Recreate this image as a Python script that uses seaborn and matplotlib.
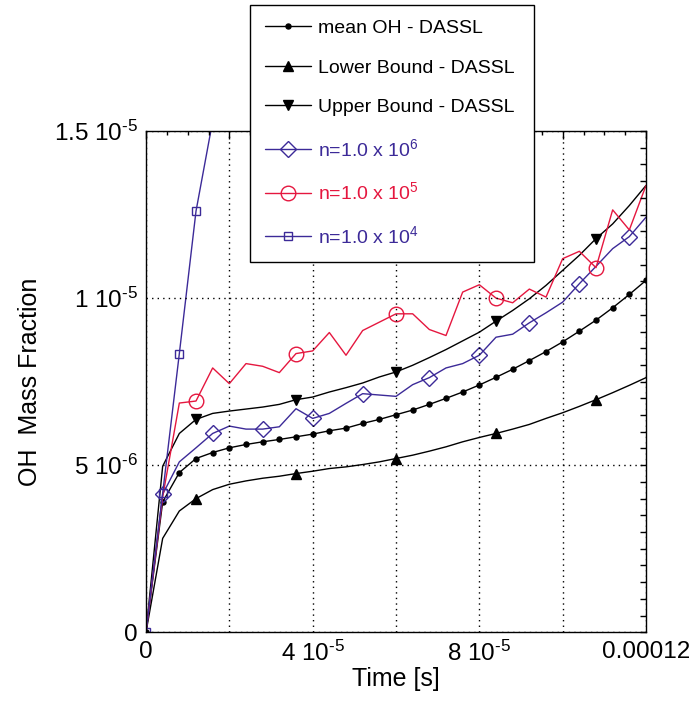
import matplotlib
matplotlib.use("Agg")
import matplotlib.pyplot as plt
from matplotlib.ticker import FixedLocator, MultipleLocator, FixedFormatter
from matplotlib.lines import Line2D
import seaborn as sns
import numpy as np

# ---------------- data (time in microseconds, mass fraction in 1e-6) ----------------
time_us = [0, 4, 8, 12, 16, 20, 24, 28, 32, 36, 40, 44, 48, 52, 56, 60,
           64, 68, 72, 76, 80, 84, 88, 92, 96, 100, 104, 108, 112, 116, 120]

mean_oh = [0, 3.90, 4.78, 5.20, 5.38, 5.52, 5.62, 5.70, 5.77, 5.85, 5.93,
           6.03, 6.11, 6.25, 6.37, 6.51, 6.65, 6.82, 7.00, 7.19, 7.40, 7.63,
           7.87, 8.13, 8.40, 8.69, 9.01, 9.34, 9.71, 10.11, 10.53]

lower_bound = [0, 2.81, 3.63, 4.00, 4.27, 4.43, 4.53, 4.61, 4.67, 4.75, 4.82,
               4.90, 4.95, 5.02, 5.10, 5.20, 5.30, 5.42, 5.55, 5.70, 5.83, 5.95,
               6.08, 6.22, 6.40, 6.57, 6.76, 6.96, 7.17, 7.39, 7.62]

upper_bound = [0, 4.97, 5.95, 6.37, 6.55, 6.62, 6.68, 6.74, 6.82, 6.96, 7.04,
               7.19, 7.32, 7.46, 7.64, 7.79, 7.99, 8.22, 8.46, 8.72, 8.98, 9.31,
               9.63, 9.98, 10.38, 10.83, 11.28, 11.78, 12.22, 12.77, 13.37]

n_1e6 = [0, 4.13, 5.10, 5.52, 5.95, 6.17, 6.08, 6.08, 6.15, 6.69, 6.40,
         6.55, 6.85, 7.14, 7.10, 7.06, 7.41, 7.62, 7.91, 8.04, 8.29, 8.83,
         8.92, 9.26, 9.56, 9.88, 10.43, 10.95, 11.48, 11.84, 12.42]

n_1e5 = [0, 4.05, 6.86, 6.92, 7.91, 7.44, 8.04, 7.96, 7.77, 8.34, 8.42,
         8.97, 8.29, 9.03, 9.28, 9.53, 9.53, 9.06, 8.88, 10.18, 10.40, 10.00,
         9.86, 10.27, 10.03, 11.18, 11.40, 10.91, 12.64, 12.04, 13.37]

time_1e4_us = [0, 4, 8, 12, 16]
n_1e4 = [0, 4.16, 8.34, 12.6, 15.3]

bound_marker_idx = [3, 9, 15, 21, 27]
diamond_idx = [1, 4, 7, 10, 13, 17, 20, 23, 26, 29]

labels = ["mean OH - DASSL", "Lower Bound - DASSL", "Upper Bound - DASSL",
          "n=1.0 x 10$^{6}$", "n=1.0 x 10$^{5}$", "n=1.0 x 10$^{4}$"]

x_ticks = [0, 2e-5, 4e-5, 6e-5, 8e-5, 1e-4, 1.2e-4]
x_tick_labels = ["0", "", "4 10$^{\u2010 5}$", "", "8 10$^{\u2010 5}$", "", "0.00012"]
y_ticks = [0, 5e-6, 1e-5, 1.5e-5]
y_tick_labels = ["0", "5 10$^{\u2010 6}$", "1 10$^{\u2010 5}$", "1.5 10$^{\u2010 5}$"]

# ---------------- style ----------------
sns.set_theme(style="white")
plt.rcParams["font.family"] = ["Liberation Sans", "DejaVu Sans"]
plt.rcParams["mathtext.fontset"] = "custom"
plt.rcParams["mathtext.rm"] = "Liberation Sans"
plt.rcParams["mathtext.it"] = "Liberation Sans"
plt.rcParams["mathtext.bf"] = "Liberation Sans:bold"

BLUE = "#3c2a98"
RED = "#e5173f"

fig = plt.figure(figsize=(6.95, 7.25), dpi=100)
ax = fig.add_axes([146 / 695, 1 - 632.3 / 725, 500 / 695, (632.3 - 131) / 725])

t = np.array(time_us) * 1e-6
t4 = np.array(time_1e4_us) * 1e-6
sc = 1e-6

styles = [
    dict(color="black", marker="o", ms=3.6, mfc="black", mew=1.0),
    dict(color="black", marker="^", ms=7, mfc="black", mew=1.0),
    dict(color="black", marker="v", ms=7, mfc="black", mew=1.0),
    dict(color=BLUE, marker="D", ms=8, mfc="none", mew=1.0),
    dict(color=RED, marker="o", ms=10.5, mfc="none", mew=1.0),
    dict(color=BLUE, marker="s", ms=6.3, mfc="none", mew=1.0),
]
series = [(t, mean_oh, None), (t, lower_bound, bound_marker_idx),
          (t, upper_bound, bound_marker_idx), (t, n_1e6, diamond_idx),
          (t, n_1e5, bound_marker_idx), (t4, n_1e4, None)]

for (xs, ys, mk), st in zip(series, styles):
    sns.lineplot(x=xs, y=np.array(ys) * sc, ax=ax, lw=1.0, mec=st["color"],
                 markevery=mk, sort=False, estimator=None, legend=False, **st)

ax.set_xlim(0, 1.2e-4)
ax.set_ylim(0, 1.5e-5)

# ticks
ax.xaxis.set_major_locator(FixedLocator(x_ticks))
ax.xaxis.set_major_formatter(FixedFormatter(x_tick_labels))
ax.xaxis.set_minor_locator(MultipleLocator(5e-6))
ax.yaxis.set_major_locator(FixedLocator(y_ticks))
ax.yaxis.set_major_formatter(FixedFormatter(y_tick_labels))
ax.yaxis.set_minor_locator(MultipleLocator(5e-7))
ax.tick_params(axis="both", which="both", direction="in", top=True, right=True,
               color="black", width=1.0, labelsize=17.5, labelcolor="black")
ax.tick_params(axis="x", which="major", length=6, pad=6)
ax.tick_params(axis="x", which="minor", length=3)
ax.tick_params(axis="y", which="major", length=4, pad=6)
ax.tick_params(axis="y", which="minor", length=4)

for s in ax.spines.values():
    s.set_color("black")
    s.set_linewidth(1.0)

ax.grid(True, which="major", color="black", linestyle=(0, (1, 3)), linewidth=1.0)
ax.set_axisbelow(False)

ax.set_xlabel("Time [s]", fontsize=18, labelpad=1, color="black")
ax.set_ylabel("OH  Mass Fraction", fontsize=18, labelpad=8.5, color="black")

handles = [Line2D([0], [0], lw=1.0, mec=st["color"], **st) for st in styles]
leg = ax.legend(handles, labels, loc="upper left",
                bbox_to_anchor=(250 / 695, 1 - 5 / 725, 284 / 695, 0.0),
                bbox_transform=fig.transFigure, mode="expand",
                fontsize=14, frameon=True, fancybox=False, framealpha=1,
                edgecolor="black", borderpad=0.75, labelspacing=1.12,
                handlelength=2.4, handletextpad=0.35, borderaxespad=0,
                labelcolor="linecolor", numpoints=1)
leg.get_frame().set_linewidth(1.0)
leg.set_zorder(10)

fig.savefig("out.png", dpi=100)
